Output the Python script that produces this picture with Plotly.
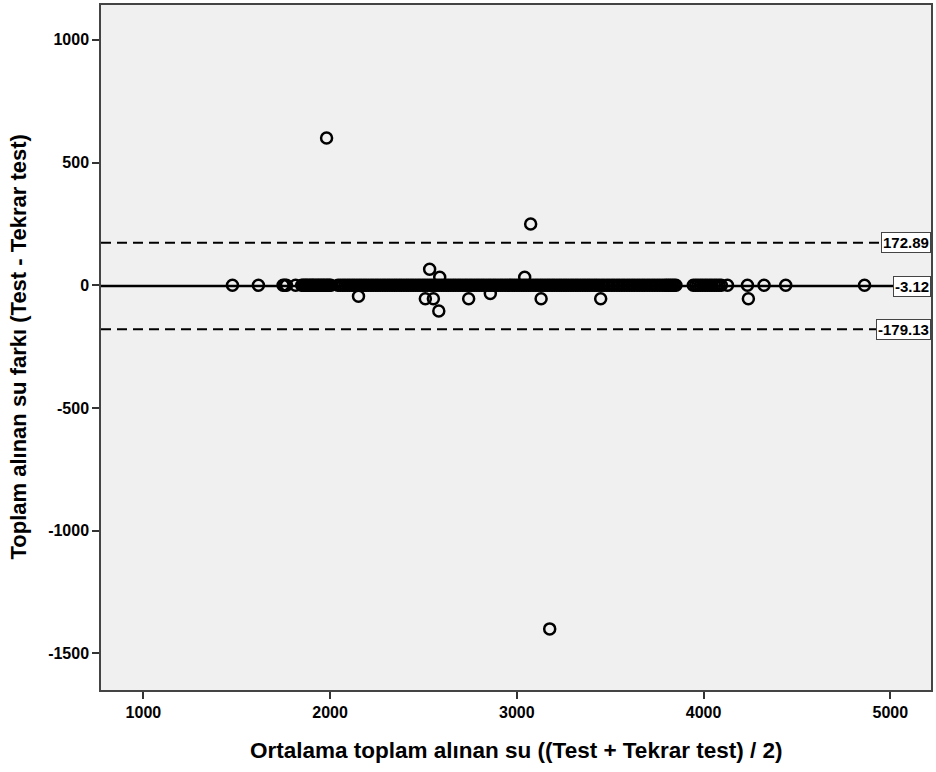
import plotly.graph_objects as go

# Points with (near) zero difference: mean of test & retest
zero_x = [
    1477, 1616, 1748, 1757, 1766, 1815,
    1848, 1856, 1865, 1872, 1880, 1889, 1897, 1905, 1912, 1921, 1930, 1938,
    1946, 1955, 1963, 1971, 1980, 1988, 1996, 2004,
    2042, 2055, 2068, 2080, 2093, 2105, 2118, 2130, 2143, 2156, 2168, 2181,
    2193, 2206, 2219, 2231, 2244, 2256, 2269, 2282, 2294, 2307, 2319, 2332,
    2345, 2357, 2370, 2382, 2395, 2408, 2420, 2433, 2445, 2458, 2471, 2483,
    2496, 2508, 2521, 2534, 2546, 2559, 2571, 2584, 2597, 2609, 2622, 2634,
    2647, 2660, 2672, 2685, 2697, 2710, 2723, 2735, 2748, 2760, 2773, 2786,
    2798, 2811, 2823, 2836, 2849, 2861, 2874, 2886, 2899, 2912, 2924, 2937,
    2949, 2962, 2975, 2987, 3000, 3012, 3025, 3038, 3050, 3063, 3075, 3088,
    3101, 3113, 3126, 3138, 3151, 3164, 3176, 3189, 3201, 3214, 3227, 3239,
    3252, 3264, 3277, 3290, 3302, 3315, 3327, 3340, 3353, 3365, 3378, 3390,
    3403, 3416, 3428,
    3441, 3455, 3468, 3482, 3495, 3509, 3522, 3536, 3549, 3563, 3576, 3590,
    3603, 3617, 3630, 3644, 3657, 3671, 3684, 3698, 3711, 3725, 3738, 3752,
    3765, 3779,
    3792, 3802, 3812, 3822, 3832, 3842, 3852,
    3945, 3958, 3970, 3983, 3995, 4008, 4020, 4033, 4045, 4058, 4070, 4083, 4095,
    4128, 4235, 4324, 4440, 4862,
]
zero_y = [0] * len(zero_x)

# Points with non-zero difference
diff_x = [1981, 3074, 3176, 2533, 2587, 3042, 2152, 2510, 2553, 2582, 2742, 2858, 3130, 3449, 4240]
diff_y = [600, 250, -1400, 65, 33, 33, -45, -55, -55, -105, -55, -33, -55, -55, -55]

mean_diff = -3.12
upper_loa = 172.89
lower_loa = -179.13

x_ticks = [1000, 2000, 3000, 4000, 5000]
y_ticks = [1000, 500, 0, -500, -1000, -1500]

FONT = "Liberation Sans, Arial, sans-serif"

fig = go.Figure()
fig.add_trace(go.Scatter(
    x=zero_x + diff_x, y=zero_y + diff_y, mode="markers",
    marker=dict(symbol="circle-open", size=11, color="black",
                line=dict(width=2.5, color="black")),
    showlegend=False, hoverinfo="x+y",
))

for val, dash, w in [(upper_loa, "10px,6px", 2), (mean_diff, "solid", 2.5), (lower_loa, "10px,6px", 2)]:
    fig.add_shape(type="line", xref="paper", x0=0, x1=1, yref="y", y0=val, y1=val,
                  line=dict(color="black", width=w, dash=dash), layer="below")
    fig.add_annotation(x=1, xref="paper", xanchor="right", y=val, yref="y", yanchor="middle",
                       text=f"<b>{val:.2f}</b>", showarrow=False,
                       font=dict(family=FONT, size=15, color="black"),
                       bgcolor="white", bordercolor="#444", borderwidth=1, borderpad=1)

fig.add_annotation(x=0.5, xref="paper", y=-0.088, yref="paper", yanchor="middle",
                   text="<b>Ortalama toplam alınan su ((Test + Tekrar test) / 2)</b>", showarrow=False,
                   font=dict(family=FONT, size=22.5, color="black"))
fig.add_annotation(x=-0.1, xref="paper", xanchor="center", y=0.5, yref="paper",
                   text="<b>Toplam alınan su farkı (Test - Tekrar test)</b>", showarrow=False,
                   textangle=-90, font=dict(family=FONT, size=22, color="black"))

axis_common = dict(ticks="outside", ticklen=7, tickwidth=1.5, tickcolor="#333",
                   showgrid=False, zeroline=False, showline=True, mirror=True,
                   linecolor="#444", linewidth=1.5,
                   tickfont=dict(family=FONT, size=16, color="black"))

fig.update_layout(
    width=936, height=772,
    margin=dict(l=101, r=3, t=4, b=82),
    paper_bgcolor="white", plot_bgcolor="#f0f0f0",
    xaxis=dict(range=[773, 5218], tickvals=x_ticks,
               ticktext=[f"<b>{v}</b>" for v in x_ticks], **axis_common),
    yaxis=dict(range=[-1649, 1142], tickvals=y_ticks,
               ticktext=[f"<b>{v}</b>" for v in y_ticks], **axis_common),
)

fig.write_html("out.html", config={"displayModeBar": False},
               post_script="document.body.style.margin='0';")
